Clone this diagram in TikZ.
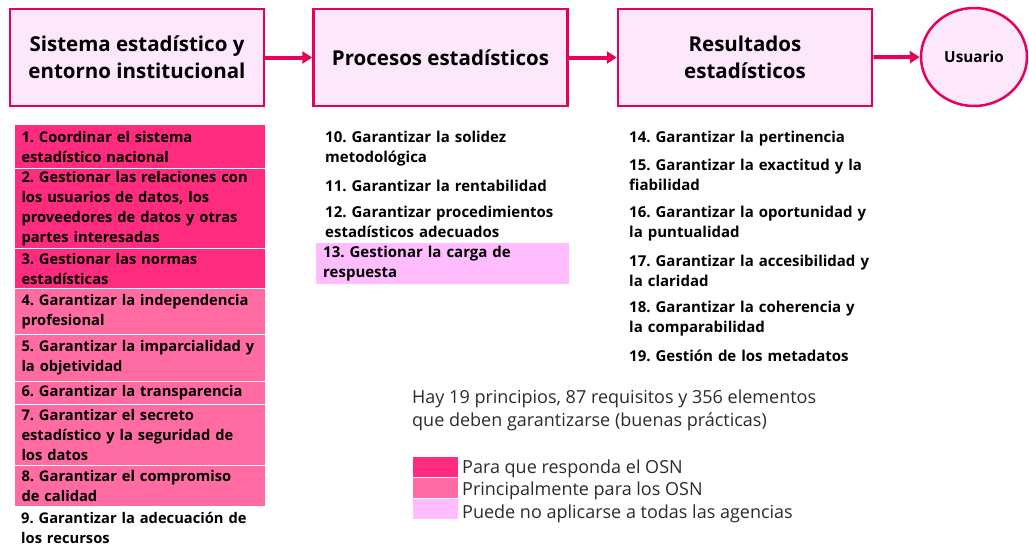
\documentclass[tikz,border=0pt]{standalone}
\usepackage{fontspec}
\setmainfont{Open Sans}
\frenchspacing
\usetikzlibrary{arrows.meta,shapes.geometric}
\definecolor{osnred}{HTML}{E8005E}
\definecolor{stagefill}{HTML}{FDE7FB}
\definecolor{darkpink}{HTML}{FF2B7E}
\definecolor{midpink}{HTML}{FF6BA2}
\definecolor{lightpink}{HTML}{FFBDFF}
\definecolor{notegray}{HTML}{2B2B2B}
\tikzset{>/.tip={Triangle[length=10pt,width=12pt]},
  stage/.style={draw=osnred, line width=2.5pt, fill=stagefill, minimum width=254pt,
    minimum height=97pt, align=center, font=\bfseries\fontsize{20.5}{27}\selectfont},
  item/.style={anchor=north west, minimum width=251pt, text width=237pt, inner xsep=7pt,
    inner ysep=0pt, align=left, font=\bfseries\fontsize{14.7}{20}\selectfont},
  plain/.style={anchor=west, text width=260pt, inner xsep=0pt, align=left,
    font=\bfseries\fontsize{15}{20}\selectfont},
  swatch/.style={anchor=north west, minimum width=46pt, minimum height=21pt, inner sep=0pt,
    draw=white, line width=1pt},
  legend/.style={anchor=west, inner sep=0pt, text=notegray, font=\fontsize{18}{22}\selectfont}}

\begin{document}
\begin{tikzpicture}[x=1pt, y=-1pt]
\useasboundingbox (0,0) rectangle (1029,549);
% etapas
\node[stage] (s1) at (137,57.5) {Sistema estadístico y\\entorno institucional};
\node[stage] (s2) at (440.5,57.5) {Procesos estadísticos};
\node[stage] (s3) at (745,57.5) {Resultados\\estadísticos};
\node[ellipse, draw=osnred, line width=2.5pt, fill=stagefill, minimum width=106pt,
  minimum height=98pt, font=\bfseries\fontsize{15.3}{18}\selectfont] (u) at (974,57) {Usuario};
\foreach \a/\b in {s1/s2,s2/s3,s3/u}
{
  \draw[->, osnred, line width=4pt] (\a) -- (\b);
}
% sistema e institucional
\node[item, fill=darkpink, draw=white, line width=1pt, minimum height=44pt] (p1) at (14,124)
  {1. Coordinar el sistema\\estadístico nacional};
\node[item, fill=darkpink, draw=white, line width=1pt, minimum height=80pt] (p2) at (14,168)
  {2. Gestionar las relaciones con\\los usuarios de datos, los\\proveedores de datos y otras\\partes interesadas};
\node[item, fill=darkpink, draw=white, line width=1pt, minimum height=40pt] (p3) at (14,248)
  {3. Gestionar las normas\\estadísticas};
\node[item, fill=midpink, draw=white, line width=1pt, minimum height=46pt] (p4) at (14,288)
  {4. Garantizar la independencia\\profesional};
\node[item, fill=midpink, draw=white, line width=1pt, minimum height=47pt] (p5) at (14,334)
  {5. Garantizar la imparcialidad y\\la objetividad};
\node[item, fill=midpink, draw=white, line width=1pt, minimum height=23pt] (p6) at (14,381)
  {6. Garantizar la transparencia};
\node[item, fill=midpink, draw=white, line width=1pt, minimum height=61pt] (p7) at (14,404)
  {7. Garantizar el secreto\\estadístico y la seguridad de\\los datos};
\node[item, fill=midpink, draw=white, line width=1pt, minimum height=41pt] (p8) at (14,465)
  {8. Garantizar el compromiso\\de calidad};
\node[item, minimum height=43pt] (p9) at (14,506)
  {9. Garantizar la adecuación de\\los recursos};
% procesos
\node[plain] (p10) at (325,149) {10. Garantizar la solidez\\metodológica};
\node[plain] (p11) at (325,186) {11. Garantizar la rentabilidad};
\node[plain] (p12) at (325,222) {12. Garantizar procedimientos\\estadísticos adecuados};
\node[item, fill=lightpink, minimum width=253pt, text width=239pt, font=\bfseries\fontsize{15}{20}\selectfont,
  minimum height=41pt] (p13) at (316,243)
  {13. Gestionar la carga de\\respuesta};
% resultados
\node[plain] (p14) at (629,138.5) {14. Garantizar la pertinencia};
\node[plain] (p15) at (629,174.5) {15. Garantizar la exactitud y la\\fiabilidad};
\node[plain] (p16) at (629,223.5) {16. Garantizar la oportunidad y\\la puntualidad};
\node[plain] (p17) at (629,270.5) {17. Garantizar la accesibilidad y\\la claridad};
\node[plain] (p18) at (629,318.5) {18. Garantizar la coherencia y\\la comparabilidad};
\node[plain] (p19) at (629,355.5) {19. Gestión de los metadatos};
% nota y leyenda
\node[anchor=west, inner sep=0pt, align=left, text=notegray,
  font=\fontsize{18}{23}\selectfont] (nota) at (412,410)
  {Hay 19 principios, 87 requisitos y 356 elementos\\que deben garantizarse (buenas prácticas)};
\node[swatch, fill=darkpink] (k1) at (412,456) {};
\node[swatch, fill=midpink] (k2) at (412,477) {};
\node[swatch, fill=lightpink] (k3) at (412,498) {};
\node[legend] (l1) at (462,468.5) {Para que responda el OSN};
\node[legend] (l2) at (462,490.5) {Principalmente para los OSN};
\node[legend] (l3) at (462,513.5) {Puede no aplicarse a todas las agencias};
\end{tikzpicture}
\end{document}
